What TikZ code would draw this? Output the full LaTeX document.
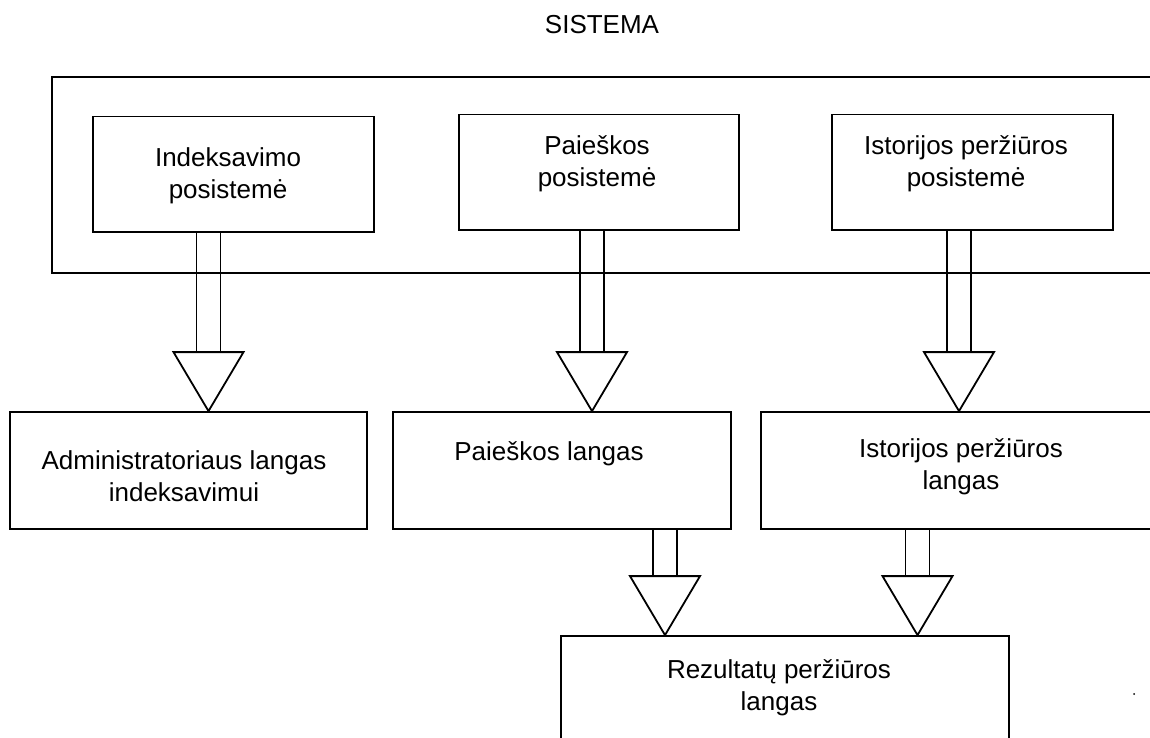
\documentclass[tikz,border=0pt]{standalone}
\usepackage{fontspec}
\setmainfont{Liberation Sans}
\usetikzlibrary{calc}

\tikzset{
  box/.style={draw, line width=1.8pt, rectangle, inner sep=0pt},
  txt/.style={align=center, inner sep=0pt, font=\fontsize{26}{32}\selectfont},
  conn/.style={line width=1.8pt, line join=miter},
}

% Hollow "double shaft" arrow from the bottom of box #1 to the top of box #2,
% running down the column given by coordinate #3.
\newcommand\hollowarrow[3]{%
  \draw[conn] ($(#1.south -| #3)+(-12,0)$) -- ($(#2.north -| #3)+(-12,-59)$)
              ($(#1.south -| #3)+(12,0)$)  -- ($(#2.north -| #3)+(12,-59)$);
  \draw[conn] ($(#2.north -| #3)+(-35,-59)$) -- ($(#2.north -| #3)+(35,-59)$)
              -- (#2.north -| #3) -- cycle;
}

\begin{document}
\begin{tikzpicture}[x=1pt,y=-1pt]
\clip (0,0) rectangle (1150,737);
\fill[white] (0,0) rectangle (1150,737);

% title
\node[txt] (title) at (602,25) {SISTEMA};

% system frame (runs past the right edge)
\node[box, minimum width=1148, minimum height=196] (sys) at (626,175) {};

% subsystems
\node[box, minimum width=281, minimum height=115.5] (idx)  at (233.5,174.25) {};
\node[box, minimum width=280, minimum height=115.5] (srch) at (599,172.25) {};
\node[box, minimum width=281, minimum height=115.5] (hist) at (972.5,172.25) {};
\node[txt] (idxT)  at (228,175.5) {Indeksavimo\\posistemė};
\node[txt] (srchT) at (597,163.5) {Paieškos\\posistemė};
\node[txt] (histT) at (966,163.5) {Istorijos peržiūros\\posistemė};

% windows
\node[box, minimum width=357, minimum height=117] (adm)  at (188.5,470.5) {};
\node[box, minimum width=338, minimum height=117] (swin) at (562,470.5) {};
\node[box, minimum width=439, minimum height=117] (hwin) at (980.5,470.5) {};
\node[txt] (admT)  at (184,476) {Administratoriaus langas\\indeksavimui};
\node[txt] (swinT) at (549,454) {Paieškos langas};
\node[txt] (hwinT) at (961,467) {Istorijos peržiūros\\langas};

% results window (runs past the bottom edge)
\node[box, minimum width=448, minimum height=164] (res) at (785,718) {};
\node[txt] (resT) at (779,688) {Rezultatų peržiūros\\langas};

% arrow columns
\coordinate (c1) at (208.5,0);
\coordinate (c2) at (592,0);
\coordinate (c3) at (959,0);
\coordinate (c4) at (665,0);
\coordinate (c5) at (917.5,0);

\hollowarrow{idx}{adm}{c1}
\hollowarrow{srch}{swin}{c2}
\hollowarrow{hist}{hwin}{c3}
\hollowarrow{swin}{res}{c4}
\hollowarrow{hwin}{res}{c5}

% stray dot
\fill (1134,694) circle (1);
\end{tikzpicture}
\end{document}
